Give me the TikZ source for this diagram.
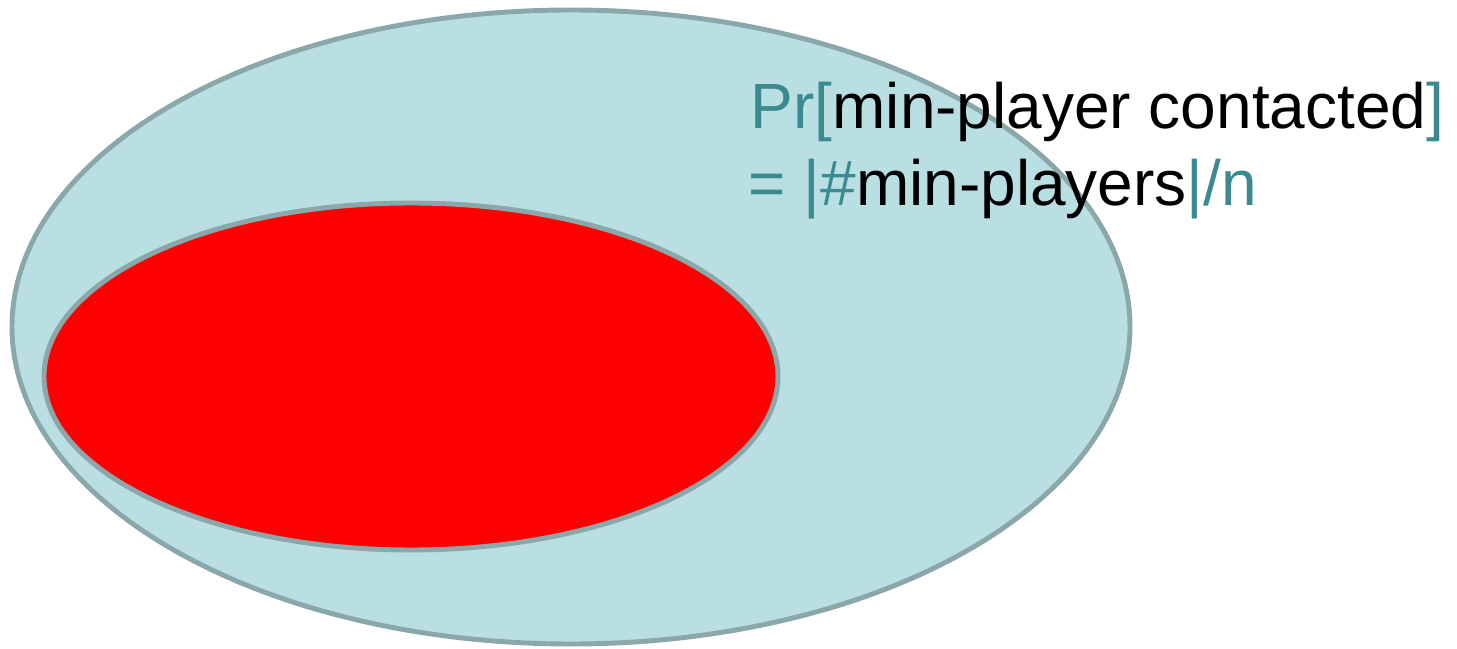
\documentclass[tikz,border=0pt]{standalone}
\usepackage{fontspec}
\setmainfont{Liberation Sans}
\definecolor{outerfill}{RGB}{185,223,226}
\definecolor{edgecol}{RGB}{138,167,169}
\definecolor{teal}{RGB}{58,138,144}
\definecolor{redfill}{RGB}{255,0,0}
\begin{document}
\begin{tikzpicture}[x=0.01cm,y=-0.01cm,
  blob/.style={draw=edgecol,line width=1.4pt},
  lbl/.style={anchor=base west,inner sep=0pt,font=\fontsize{18.2pt}{22pt}\selectfont}]
\useasboundingbox (0,0) rectangle (1457,649);
\filldraw[blob,fill=outerfill] (571,327) ellipse [x radius=559, y radius=317];
\filldraw[blob,fill=redfill] (411,376.5) ellipse [x radius=367, y radius=173.5];
\node[lbl] (l1) at (750,129) {\textcolor{teal}{Pr[}min-player contacted\textcolor{teal}{]}};
\node[lbl] (l2) at (748,206) {\textcolor{teal}{= |\#}min-players\textcolor{teal}{|/n}};
\end{tikzpicture}
\end{document}
